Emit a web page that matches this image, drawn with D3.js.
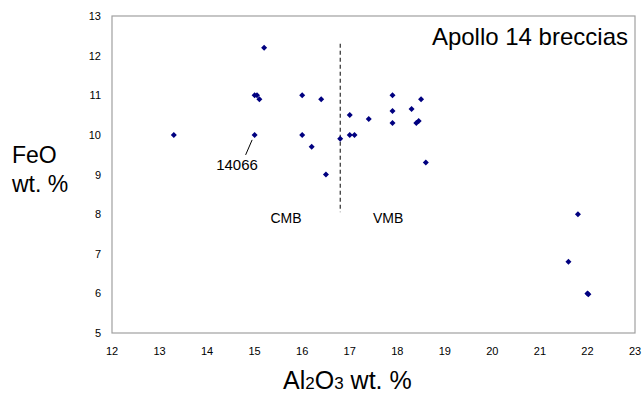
<!DOCTYPE html>
<html>
<head>
  <script src="https://d3js.org/d3.v7.min.js"></script>
  <style>
    body { margin: 0; background: #fff; }
    text { font-family: "Liberation Sans", Arial, sans-serif; }
  </style>
</head>
<body>
<svg width="644" height="397"></svg>
<script>
  // Al2O3 wt.% and FeO wt.%
  const al2o3 = [13.3, 15.0, 15.05, 15.1, 15.2, 15.0, 16.0, 16.4, 16.0, 16.2, 16.5, 16.8,
                 17.0, 17.0, 17.1, 17.4, 17.9, 17.9, 17.9, 18.5, 18.3, 18.45, 18.4, 18.6,
                 21.8, 21.6, 22.0, 22.02];
  const feo   = [10.0, 11.0, 11.0, 10.9, 12.2, 10.0, 11.0, 10.9, 10.0, 9.7, 9.0, 9.9,
                 10.5, 10.0, 10.0, 10.4, 11.0, 10.6, 10.3, 10.9, 10.65, 10.35, 10.3, 9.3,
                 8.0, 6.8, 6.0, 5.98];
  const xTicks = [12, 13, 14, 15, 16, 17, 18, 19, 20, 21, 22, 23];
  const yTicks = [5, 6, 7, 8, 9, 10, 11, 12, 13];
  const divider = { x: 16.8, y0: 8.05, y1: 12.3 };

  const svg = d3.select("svg");
  const pLeft = 112, pRight = 635, pTop = 16, pBottom = 333;

  const x = d3.scaleLinear().domain([12, 23]).range([pLeft, pRight]);
  const y = d3.scaleLinear().domain([5, 13]).range([pBottom, pTop]);

  // plot frame
  svg.append("rect")
    .attr("x", pLeft).attr("y", pTop)
    .attr("width", pRight - pLeft).attr("height", pBottom - pTop)
    .attr("fill", "none").attr("stroke", "#a0a0a0").attr("stroke-width", 1.2);

  // tick labels
  svg.append("g").selectAll("text")
    .data(xTicks).enter().append("text")
    .attr("x", d => x(d)).attr("y", 355)
    .attr("text-anchor", "middle").attr("font-size", 11)
    .text(d => d);

  svg.append("g").selectAll("text")
    .data(yTicks).enter().append("text")
    .attr("x", 101).attr("y", d => y(d) + 4)
    .attr("text-anchor", "end").attr("font-size", 11)
    .text(d => d);

  // CMB / VMB divider
  svg.append("line")
    .attr("x1", x(divider.x)).attr("x2", x(divider.x))
    .attr("y1", y(divider.y1)).attr("y2", y(divider.y0))
    .attr("stroke", "#000").attr("stroke-width", 1)
    .attr("stroke-dasharray", "4,3");

  // points - square symbol turned 45 deg gives the even Excel diamond
  const pts = al2o3.map((a, i) => ({ a: a, f: feo[i] }));
  svg.append("g").selectAll("path")
    .data(pts).enter().append("path")
    .attr("d", d3.symbol().type(d3.symbolSquare).size(18))
    .attr("transform", d => `translate(${x(d.a)},${y(d.f)}) rotate(45)`)
    .attr("fill", "#000080");

  // annotations
  svg.append("text").attr("x", 628).attr("y", 45)
    .attr("text-anchor", "end").attr("font-size", 24)
    .text("Apollo 14 breccias");

  svg.append("text").attr("x", 286).attr("y", 223)
    .attr("text-anchor", "middle").attr("font-size", 14).text("CMB");
  svg.append("text").attr("x", 373).attr("y", 223)
    .attr("font-size", 14).text("VMB");

  svg.append("line")
    .attr("x1", x(15.0) - 2.5).attr("y1", y(10.0) + 5)
    .attr("x2", x(15.0) - 9).attr("y2", y(10.0) + 20)
    .attr("stroke", "#000").attr("stroke-width", 1);
  svg.append("text").attr("x", 237).attr("y", 170)
    .attr("text-anchor", "middle").attr("font-size", 15).text("14066");

  // axis titles
  const yt = svg.append("text").attr("font-size", 23);
  yt.append("tspan").attr("x", 12).attr("y", 163).text("FeO");
  yt.append("tspan").attr("x", 12).attr("y", 192).text("wt. %");

  const xt = svg.append("text").attr("x", 283).attr("y", 389).attr("font-size", 25);
  xt.append("tspan").text("Al");
  xt.append("tspan").attr("font-size", 17).text("2");
  xt.append("tspan").text("O");
  xt.append("tspan").attr("font-size", 17).text("3");
  xt.append("tspan").text(" wt. %");
</script>
</body>
</html>
